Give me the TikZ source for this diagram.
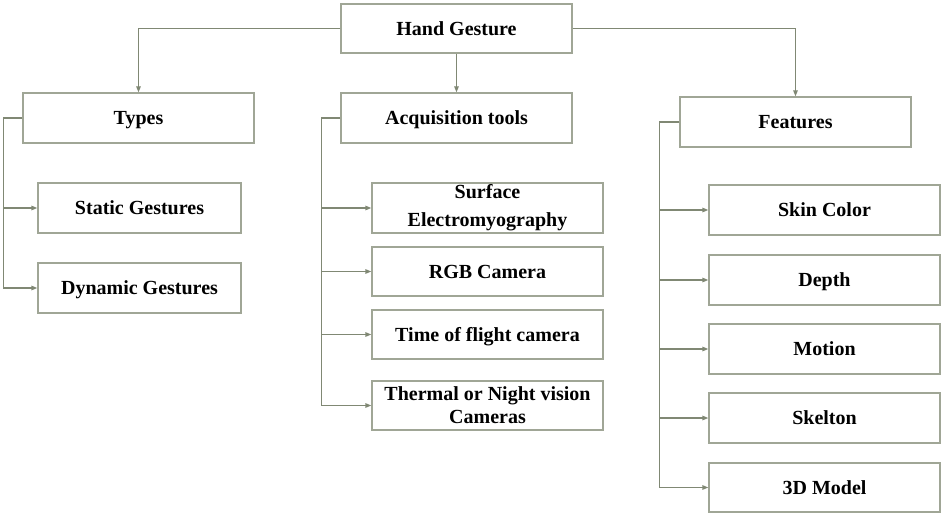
\documentclass[tikz,border=0pt]{standalone}
\usepackage{fontspec}
\setmainfont{Liberation Serif}
\usetikzlibrary{arrows.meta}
\definecolor{linec}{RGB}{128,136,116}
\definecolor{boxc}{RGB}{160,166,150}
\tikzset{
  boxbase/.style={draw=boxc, line width=1.3pt, inner sep=0pt, minimum width=231pt, minimum height=50pt,
    font=\fontsize{20}{24}\selectfont\bfseries, align=center, text=black},
  box/.style={boxbase, text depth=0pt},
  smallbox/.style={box, minimum width=203pt},
  conn/.style={draw=linec, line width=1.3pt},
  arr/.style={conn, -{Triangle[length=6pt,width=4.5pt]}},
}
\begin{document}
\begin{tikzpicture}[x=1pt,y=-1pt]
\useasboundingbox (0,0) rectangle (942,513);
% top
\node[box, minimum height=49pt] (hg) at (456.5,28.5) {Hand Gesture};
\node[box] (types) at (138.5,118) {Types};
\node[box] (acq) at (456.5,118) {Acquisition tools};
\node[box] (feat) at (795.5,122) {Features};
% types children
\node[smallbox] (stat) at (139.5,208) {Static Gestures};
\node[smallbox] (dyn) at (139.5,288) {Dynamic Gestures};
% acquisition children
\node[boxbase, font=\fontsize{20}{28}\selectfont\bfseries] (surf) at (487.5,208) {Surface\\Electromyography};
\node[box, minimum height=49pt] (rgb) at (487.5,271.5) {RGB Camera};
\node[box, minimum height=49pt] (tof) at (487.5,334.5) {Time of flight camera};
\node[boxbase, minimum height=49pt, font=\fontsize{20}{23}\selectfont\bfseries] (therm) at (487.5,405.5) {Thermal or Night vision\\Cameras};
% features children
\node[box] (skin) at (824.5,210) {Skin Color};
\node[box] (depth) at (824.5,280) {Depth};
\node[box] (motion) at (824.5,349) {Motion};
\node[box] (skel) at (824.5,418) {Skelton};
\node[box, minimum height=49pt] (model) at (824.5,487.5) {3D Model};
% top connectors
\draw[arr] (hg.west) -| (types.north);
\draw[arr] (hg.south) -- (acq.north);
\draw[arr] (hg.east) -| (feat.north);
% types branch
\coordinate (tb) at ([xshift=-19pt]types.west);
\draw[arr] (types.west) -- (tb) |- (dyn.west);
\draw[arr] (tb |- stat.west) -- (stat.west);
% acquisition branch
\coordinate (ab) at ([xshift=-19pt]acq.west);
\draw[arr] (acq.west) -- (ab) |- (therm.west);
\draw[arr] (ab |- surf.west) -- (surf.west);
\draw[arr] (ab |- rgb.west) -- (rgb.west);
\draw[arr] (ab |- tof.west) -- (tof.west);
% features branch
\coordinate (fb) at ([xshift=-20pt]feat.west);
\draw[arr] (feat.west) -- (fb) |- (model.west);
\draw[arr] (fb |- skin.west) -- (skin.west);
\draw[arr] (fb |- depth.west) -- (depth.west);
\draw[arr] (fb |- motion.west) -- (motion.west);
\draw[arr] (fb |- skel.west) -- (skel.west);
\end{tikzpicture}
\end{document}
